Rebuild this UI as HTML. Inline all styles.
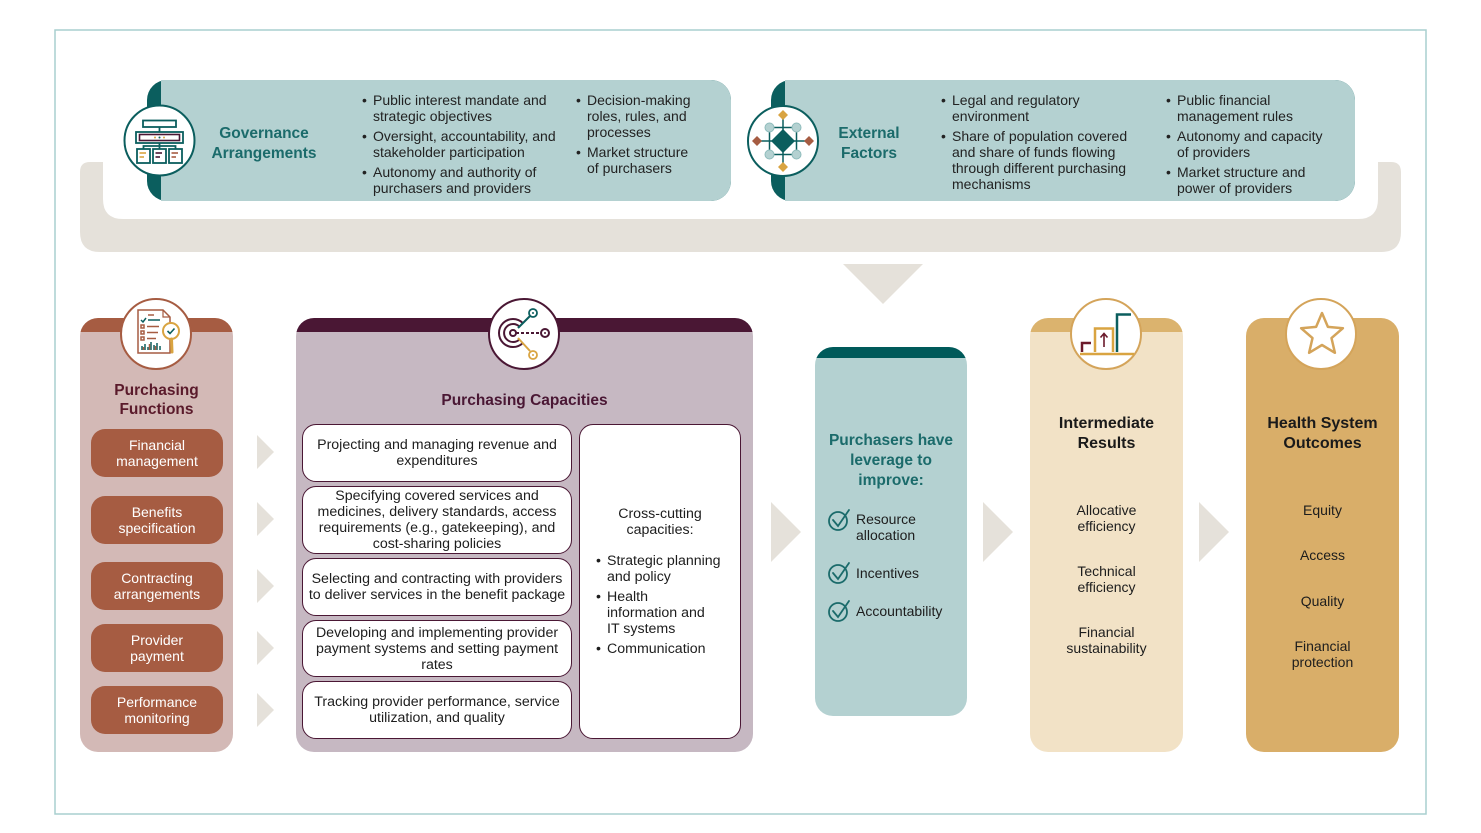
<!DOCTYPE html>
<html><head><meta charset="utf-8">
<style>
*{margin:0;padding:0;box-sizing:border-box}
html,body{width:1481px;height:833px;overflow:hidden;background:#fff}
body{position:relative;font-family:"Liberation Sans",Arial,sans-serif;color:#1d1d1d}
.a{position:absolute}
.bl{position:absolute;font-size:14px;line-height:16px;white-space:nowrap;color:#222}
.bl:before{content:"•";position:absolute;left:-11px;top:0}
.ttl{position:absolute;font-weight:bold;font-size:15.5px;line-height:20px;text-align:center;white-space:nowrap}
.col{position:absolute;border-radius:18px}
.pill{position:absolute;left:91px;width:132px;height:48px;border-radius:14px;background:#a65c42;color:#fff;display:flex;align-items:center;justify-content:center;text-align:center;font-size:14px;line-height:16px}
.bx{position:absolute;left:302px;width:270px;border:1.5px solid #4a1734;border-radius:14px;background:#fff;display:flex;align-items:center;justify-content:center;text-align:center;font-size:14.2px;line-height:16px;padding:0 4px}
.it{position:absolute;text-align:center;font-size:14px;line-height:16px;white-space:nowrap}
</style></head><body>

<svg class="a" style="left:0;top:0" width="1481" height="833">
<rect x="55" y="30" width="1371" height="784" fill="none" stroke="#a9cfcf" stroke-width="1.5"/>
<path d="M80,172 Q80,162 90,162 H103 V199 Q103,219 123,219 H1358 Q1378,219 1378,199 V162 H1391 Q1401,162 1401,172 V232 Q1401,252 1381,252 H100 Q80,252 80,232 Z" fill="#e5e1da"/>
<polygon points="843,264 923,264 883,304" fill="#e5e1da"/>
<rect x="147" y="80" width="584" height="121" rx="20" fill="#0b5e5e"/>
<rect x="161" y="80" width="570" height="121" rx="20" fill="#b4d1d1"/>
<rect x="161" y="80" width="40" height="121" fill="#b4d1d1"/>
<rect x="771" y="80" width="584" height="121" rx="20" fill="#0b5e5e"/>
<rect x="785" y="80" width="570" height="121" rx="20" fill="#b4d1d1"/>
<rect x="785" y="80" width="40" height="121" fill="#b4d1d1"/>
<g fill="#e5e1da">
<polygon points="257,435 274,452 257,469"/>
<polygon points="257,502 274,519 257,536"/>
<polygon points="257,569 274,586 257,603"/>
<polygon points="257,631 274,648 257,665"/>
<polygon points="257,693 274,710 257,727"/>
<polygon points="771,502 801,532 771,562"/>
<polygon points="983,502 1013,532 983,562"/>
<polygon points="1199,502 1229,532 1199,562"/>
</g>
</svg>

<div class="col" style="left:80px;top:318px;width:153px;height:434px;background:linear-gradient(#a65c42 0,#a65c42 14px,#d3b9b6 14px)"></div>
<div class="col" style="left:296px;top:318px;width:457px;height:434px;background:linear-gradient(#4a1734 0,#4a1734 14px,#c6b8c2 14px)"></div>
<div class="col" style="left:815px;top:347px;width:152px;height:369px;background:linear-gradient(#005a5a 0,#005a5a 11px,#b4d1d1 11px)"></div>
<div class="col" style="left:1030px;top:318px;width:153px;height:434px;background:linear-gradient(#dbb36e 0,#dbb36e 14px,#f2e2c6 14px)"></div>
<div class="col" style="left:1246px;top:318px;width:153px;height:434px;background:#d9ae69"></div>

<div class="ttl" style="left:199px;top:124px;width:130px;color:#1b6b6b">Governance<br>Arrangements</div>
<div class="ttl" style="left:819px;top:124px;width:100px;color:#1b6b6b">External<br>Factors</div>

<div class="bl" style="left:373px;top:92px">Public interest mandate and<br>strategic objectives</div>
<div class="bl" style="left:373px;top:128px">Oversight, accountability, and<br>stakeholder participation</div>
<div class="bl" style="left:373px;top:164px">Autonomy and authority of<br>purchasers and providers</div>
<div class="bl" style="left:587px;top:92px">Decision-making<br>roles, rules, and<br>processes</div>
<div class="bl" style="left:587px;top:144px">Market structure<br>of purchasers</div>

<div class="bl" style="left:952px;top:92px">Legal and regulatory<br>environment</div>
<div class="bl" style="left:952px;top:128px">Share of population covered<br>and share of funds flowing<br>through different purchasing<br>mechanisms</div>
<div class="bl" style="left:1177px;top:92px">Public financial<br>management rules</div>
<div class="bl" style="left:1177px;top:128px">Autonomy and capacity<br>of providers</div>
<div class="bl" style="left:1177px;top:164px">Market structure and<br>power of providers</div>

<div class="ttl" style="left:80px;top:381px;width:153px;line-height:19px;color:#5a1a2b">Purchasing<br>Functions</div>
<div class="pill" style="top:429px">Financial<br>management</div>
<div class="pill" style="top:496px">Benefits<br>specification</div>
<div class="pill" style="top:562px">Contracting<br>arrangements</div>
<div class="pill" style="top:624px">Provider<br>payment</div>
<div class="pill" style="top:686px">Performance<br>monitoring</div>

<div class="ttl" style="left:296px;top:391px;width:457px;color:#4a1734">Purchasing Capacities</div>
<div class="bx" style="top:424px;height:58px">Projecting and managing revenue and<br>expenditures</div>
<div class="bx" style="top:486px;height:68px">Specifying covered services and<br>medicines, delivery standards, access<br>requirements (e.g., gatekeeping), and<br>cost-sharing policies</div>
<div class="bx" style="top:558px;height:58px;padding:0 2px">Selecting and contracting with providers<br>to deliver services in the benefit package</div>
<div class="bx" style="top:620px;height:57px">Developing and implementing provider<br>payment systems and setting payment<br>rates</div>
<div class="bx" style="top:681px;height:58px">Tracking provider performance, service<br>utilization, and quality</div>
<div class="a" style="left:579px;top:424px;width:162px;height:315px;border:1.5px solid #4a1734;border-radius:14px;background:#fff"></div>
<div class="it" style="left:579px;top:506px;width:162px;font-size:14.2px">Cross-cutting<br>capacities:</div>
<div class="bl" style="left:607px;top:553px;color:#1d1d1d;font-size:14.2px">Strategic planning<br>and policy</div>
<div class="bl" style="left:607px;top:589px;color:#1d1d1d;font-size:14.2px">Health<br>information and<br>IT systems</div>
<div class="bl" style="left:607px;top:641px;color:#1d1d1d;font-size:14.2px">Communication</div>

<div class="ttl" style="left:815px;top:431px;width:152px;color:#1b6b6b">Purchasers have<br>leverage to<br>improve:</div>
<div class="it" style="left:856px;top:511px;text-align:left">Resource<br>allocation</div>
<div class="it" style="left:856px;top:565px;text-align:left">Incentives</div>
<div class="it" style="left:856px;top:603px;text-align:left">Accountability</div>

<div class="ttl" style="left:1030px;top:414px;width:153px;font-size:16px;color:#1a1a1a">Intermediate<br>Results</div>
<div class="it" style="left:1030px;top:502px;width:153px">Allocative<br>efficiency</div>
<div class="it" style="left:1030px;top:563px;width:153px">Technical<br>efficiency</div>
<div class="it" style="left:1030px;top:624px;width:153px">Financial<br>sustainability</div>

<div class="ttl" style="left:1246px;top:414px;width:153px;font-size:16px;color:#1a1a1a">Health System<br>Outcomes</div>
<div class="it" style="left:1246px;top:502px;width:153px">Equity</div>
<div class="it" style="left:1246px;top:547px;width:153px">Access</div>
<div class="it" style="left:1246px;top:593px;width:153px">Quality</div>
<div class="it" style="left:1246px;top:638px;width:153px">Financial<br>protection</div>

<svg class="a" style="left:0;top:0" width="1481" height="833">
<circle cx="159.5" cy="140.5" r="35" fill="#fff" stroke="#0b5e5e" stroke-width="2"/>
<g stroke="#0b5e5e" stroke-width="1.8" fill="none">
<rect x="143" y="120.5" width="33" height="6.5"/>
<line x1="159.5" y1="127" x2="159.5" y2="132"/>
<rect x="136" y="132" width="47" height="11"/>
<path d="M143.5,149 V146 H175.5 V149 M159.5,143 V149"/>
<rect x="137" y="149" width="13" height="14"/>
<rect x="153" y="149" width="13" height="14"/>
<rect x="169" y="149" width="13" height="14"/>
</g>
<rect x="139.5" y="134.5" width="40" height="6" fill="none" stroke="#4a1734" stroke-width="1.6"/>
<circle cx="155" cy="137.5" r="1" fill="#d9a441"/><circle cx="159.5" cy="137.5" r="1" fill="#0b5e5e"/><circle cx="164" cy="137.5" r="1" fill="#d9a441"/>
<g stroke-width="1.6">
<line x1="139.5" y1="153" x2="146" y2="153" stroke="#d9a441"/><line x1="139.5" y1="157" x2="144" y2="157" stroke="#d9a441"/>
<line x1="155.5" y1="153" x2="162" y2="153" stroke="#4a1734"/><line x1="155.5" y1="157" x2="160" y2="157" stroke="#4a1734"/>
<line x1="171.5" y1="153" x2="178" y2="153" stroke="#a65c42"/><line x1="171.5" y1="157" x2="176" y2="157" stroke="#a65c42"/>
</g>

<circle cx="783" cy="141" r="35" fill="#fff" stroke="#0b5e5e" stroke-width="2"/>
<g stroke="#0b5e5e" stroke-width="1.5" fill="none">
<path d="M783,115 V167 M757,141 H809"/>
<rect x="769.5" y="127.5" width="27" height="27"/>
</g>
<g fill="#b4d1d1" stroke="#8fbcbc" stroke-width="1">
<circle cx="769.5" cy="127.5" r="4.5"/><circle cx="796.5" cy="127.5" r="4.5"/>
<circle cx="769.5" cy="154.5" r="4.5"/><circle cx="796.5" cy="154.5" r="4.5"/>
</g>
<polygon points="783,129 795,141 783,153 771,141" fill="#0b5e5e"/>
<polygon points="783,110 788,115 783,120 778,115" fill="#d9a441"/>
<polygon points="783,162 788,167 783,172 778,167" fill="#d9a441"/>
<polygon points="757,136 762,141 757,146 752,141" fill="#a65c42"/>
<polygon points="809,136 814,141 809,146 804,141" fill="#a65c42"/>

<circle cx="156" cy="334" r="35" fill="#fff" stroke="#a65c42" stroke-width="2"/>
<path d="M138,310 H163 L170,317 V353 H138 Z" fill="#fff" stroke="#a65c42" stroke-width="1.5"/>
<path d="M163,310 V317 H170" fill="none" stroke="#a65c42" stroke-width="1.2"/>
<g stroke-width="1.5" fill="none">
<path d="M141,320 L143,322 L146,318" stroke="#0b5e5e"/>
<line x1="148" y1="320" x2="160" y2="320" stroke="#0b5e5e"/>
<line x1="148" y1="315" x2="154" y2="315" stroke="#a65c42"/>
<rect x="141" y="325" width="3" height="3" stroke="#a65c42"/><line x1="147" y1="326.5" x2="159" y2="326.5" stroke="#a65c42"/>
<rect x="141" y="331" width="3" height="3" stroke="#a65c42"/><line x1="147" y1="332.5" x2="158" y2="332.5" stroke="#a65c42"/>
<rect x="141" y="337" width="3" height="3" stroke="#a65c42"/><line x1="147" y1="338.5" x2="156" y2="338.5" stroke="#a65c42"/>
<path d="M142,350 V346 M145,350 V344 M148,350 V347 M151,350 V342 M154,350 V345 M157,350 V343 M160,350 V346" stroke="#0b5e5e"/>
<path d="M143.5,350 V347 M149.5,350 V344 M155.5,350 V346" stroke="#a65c42"/>
</g>
<circle cx="171" cy="331" r="8" fill="#fff" stroke="#d9a441" stroke-width="2"/>
<path d="M167.5,331 L170,333.5 L174.5,328.5" fill="none" stroke="#0b5e5e" stroke-width="1.6"/>
<line x1="171.5" y1="339" x2="172" y2="352" stroke="#d9a441" stroke-width="3" stroke-linecap="round"/>

<circle cx="524" cy="334" r="35" fill="#fff" stroke="#4a1734" stroke-width="2"/>
<g fill="none" stroke="#4a1734" stroke-width="2">
<path d="M522.9,342.9 A14,14 0 1 1 522.9,323.1"/>
<path d="M519.4,339.4 A9,9 0 1 1 519.4,326.6"/>
<circle cx="513" cy="333" r="3"/>
<line x1="516" y1="333" x2="541" y2="333" stroke-dasharray="3,2"/>
<circle cx="545" cy="333" r="4"/>
</g>
<circle cx="545" cy="333" r="1" fill="#4a1734"/>
<line x1="518" y1="328" x2="530" y2="316" stroke="#0b5e5e" stroke-width="2"/>
<circle cx="533" cy="313" r="4" fill="#fff" stroke="#0b5e5e" stroke-width="1.8"/><circle cx="533" cy="313" r="1" fill="#0b5e5e"/>
<line x1="518" y1="338" x2="530" y2="351" stroke="#d9a441" stroke-width="2"/>
<circle cx="533" cy="355" r="4" fill="#fff" stroke="#d9a441" stroke-width="1.8"/><circle cx="533" cy="355" r="1" fill="#d9a441"/>

<circle cx="1106" cy="334" r="35" fill="#fff" stroke="#d4a45a" stroke-width="2"/>
<path d="M1082,352 V343 H1091" fill="none" stroke="#6b1a2b" stroke-width="2.5"/>
<path d="M1095,352 V328.5 H1113 V352" fill="none" stroke="#d9a441" stroke-width="2.5"/>
<path d="M1104,347 V334 M1100.5,337.5 L1104,333.5 L1107.5,337.5" fill="none" stroke="#6b1a2b" stroke-width="1.6"/>
<path d="M1117,352 V314.5 H1131" fill="none" stroke="#0b5e5e" stroke-width="2.5"/>
<line x1="1080" y1="354" x2="1134" y2="354" stroke="#d9a441" stroke-width="2.5"/>

<circle cx="1321" cy="334" r="35" fill="#fff" stroke="#d4a45a" stroke-width="2"/>
<polygon points="1322,313 1327.9,326.9 1342.9,328.2 1331.5,338.1 1334.9,352.8 1322,345 1309.1,352.8 1312.5,338.1 1301.1,328.2 1316.1,326.9" fill="none" stroke="#d4a45a" stroke-width="2.5" stroke-linejoin="round"/>

<g fill="none" stroke="#1b6b6b" stroke-width="1.8" stroke-linecap="round">
<circle cx="838" cy="521" r="9"/><path d="M833,520 L838,526 L849,510"/>
<circle cx="838" cy="574" r="9"/><path d="M833,573 L838,579 L849,563"/>
<circle cx="838" cy="612" r="9"/><path d="M833,611 L838,617 L849,601"/>
</g>
</svg>
</body></html>
